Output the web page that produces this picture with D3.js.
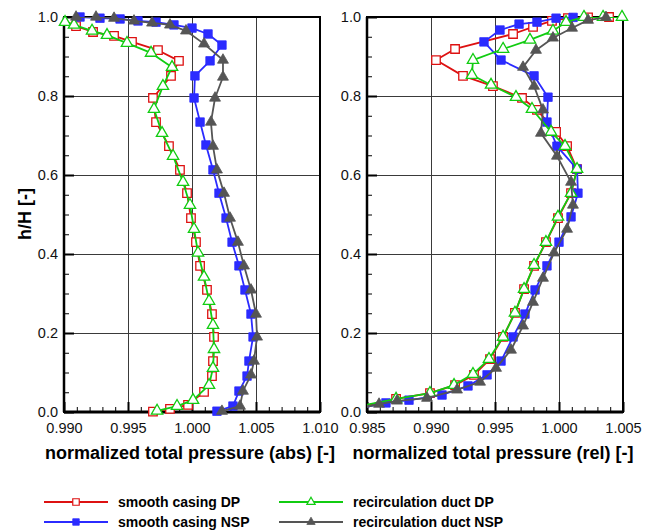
<!DOCTYPE html>
<html>
<head>
<meta charset="utf-8">
<script src="https://cdn.jsdelivr.net/npm/d3@7"></script>
<style>
  html, body { margin: 0; padding: 0; background: #fff; }
  svg { display: block; }
  text { font-family: "Liberation Sans", Arial, sans-serif; }
</style>
</head>
<body>
<svg id="chart" width="652" height="531"></svg>
<script>
// ---------------- data ----------------
const hTicks = [0.0, 0.2, 0.4, 0.6, 0.8, 1.0];
const absTicks = [0.990, 0.995, 1.000, 1.005, 1.010];
const relTicks = [0.985, 0.990, 0.995, 1.000, 1.005];
const absDomain = [0.990, 1.010];
const relDomain = [0.985, 1.005];

const seriesNames = ["smooth casing DP", "smooth casing NSP", "recirculation duct DP", "recirculation duct NSP"];

// [normalized total pressure, h/H]
const absSmoothDP = [[0.9899,0.993],[0.99094,0.977],[0.99227,0.962],[0.99391,0.952],[0.99531,0.937],[0.99734,0.916],[0.99898,0.889],[0.99836,0.851],[0.99695,0.795],[0.99719,0.734],[0.99820,0.673],[0.99906,0.613],[0.99961,0.554],[0.99992,0.491],[1.00031,0.430],[1.00063,0.370],[1.00117,0.309],[1.00156,0.248],[1.00172,0.190],[1.00164,0.129],[1.00156,0.091],[1.00094,0.051],[0.99969,0.018],[0.99828,0.008],[0.99695,0.001]];
const absSmoothNSP = [[0.99125,1.000],[0.99281,0.997],[0.99438,0.995],[0.99578,0.990],[0.99719,0.987],[0.99859,0.980],[1.00000,0.972],[1.00125,0.957],[1.00234,0.929],[1.00141,0.889],[1.00023,0.851],[1.00016,0.795],[1.00063,0.734],[1.00109,0.676],[1.00164,0.613],[1.00211,0.554],[1.00266,0.491],[1.00313,0.430],[1.00367,0.370],[1.00414,0.309],[1.00461,0.248],[1.00477,0.190],[1.00445,0.129],[1.00430,0.091],[1.00367,0.053],[1.00320,0.015],[1.00195,0.002]];
const absRecircDP = [[0.99008,0.987],[0.99078,0.980],[0.99219,0.965],[0.99336,0.954],[0.99492,0.934],[0.99680,0.909],[0.99844,0.873],[0.99773,0.825],[0.99703,0.767],[0.99766,0.706],[0.99852,0.648],[0.99930,0.582],[0.99984,0.524],[1.00016,0.463],[1.00047,0.403],[1.00094,0.342],[1.00133,0.281],[1.00164,0.220],[1.00172,0.159],[1.00164,0.111],[1.00133,0.068],[1.00008,0.030],[0.99883,0.015],[0.99727,0.003]];
const absRecircNSP = [[0.99094,1.000],[0.99250,1.000],[0.99391,0.997],[0.99547,0.990],[0.99688,0.985],[0.99828,0.980],[0.99953,0.965],[1.00094,0.932],[1.00242,0.891],[1.00242,0.848],[1.00180,0.795],[1.00148,0.734],[1.00164,0.673],[1.00195,0.613],[1.00250,0.554],[1.00297,0.491],[1.00359,0.430],[1.00406,0.370],[1.00461,0.309],[1.00500,0.248],[1.00508,0.190],[1.00484,0.129],[1.00461,0.094],[1.00398,0.053],[1.00375,0.015],[1.00234,0.002]];

const relSmoothDP = [[1.00391,1.000],[1.00227,0.999],[1.00070,0.997],[0.99945,0.990],[0.99797,0.975],[0.99641,0.957],[0.99188,0.919],[0.99039,0.891],[0.99250,0.851],[0.99484,0.825],[0.99711,0.795],[0.99828,0.765],[0.99977,0.709],[1.00063,0.673],[1.00141,0.615],[1.00094,0.554],[0.99992,0.491],[0.99898,0.430],[0.99805,0.370],[0.99727,0.311],[0.99656,0.251],[0.99563,0.190],[0.99461,0.134],[0.99336,0.094],[0.99188,0.068],[0.98992,0.048],[0.98727,0.033],[0.9843,0.012]];
const relSmoothNSP = [[1.00110,0.999],[0.99977,0.997],[0.99828,0.987],[0.99688,0.982],[0.99539,0.967],[0.99414,0.937],[0.99547,0.891],[0.99805,0.851],[0.99914,0.797],[0.99906,0.734],[0.99984,0.673],[1.00141,0.615],[1.00148,0.554],[1.00094,0.494],[1.00000,0.430],[0.99906,0.370],[0.99813,0.309],[0.99734,0.248],[0.99641,0.190],[0.99547,0.129],[0.99438,0.094],[0.99289,0.066],[0.99086,0.043],[0.98828,0.030],[0.98648,0.023],[0.9845,0.010]];
const relRecircDP = [[1.00492,1.000],[1.00344,1.000],[1.00195,1.000],[1.00055,0.987],[0.99953,0.965],[0.99773,0.942],[0.99563,0.919],[0.99328,0.891],[0.99320,0.853],[0.99469,0.828],[0.99664,0.797],[0.99789,0.767],[0.99938,0.709],[1.00047,0.673],[1.00141,0.615],[1.00094,0.554],[0.99992,0.494],[0.99898,0.430],[0.99805,0.372],[0.99727,0.311],[0.99656,0.251],[0.99563,0.190],[0.99453,0.134],[0.99328,0.096],[0.99180,0.068],[0.98992,0.048],[0.98727,0.033],[0.9843,0.014]];
const relRecircNSP = [[1.00367,0.999],[1.00227,0.992],[1.00102,0.972],[0.99953,0.947],[0.99820,0.916],[0.99719,0.873],[0.99805,0.825],[0.99875,0.765],[0.99859,0.706],[0.99984,0.648],[1.00094,0.582],[1.00109,0.524],[1.00063,0.463],[0.99961,0.403],[0.99875,0.339],[0.99797,0.278],[0.99719,0.218],[0.99625,0.157],[0.99508,0.111],[0.99383,0.076],[0.99203,0.056],[0.98969,0.035],[0.98734,0.028],[0.98594,0.020],[0.9848,0.012]];

// ---------------- styles ----------------
const styles = [
  { color: "#dd1111", symbol: d3.symbolSquare,   size: 72, filled: false },
  { color: "#2b2bff", symbol: d3.symbolSquare,   size: 72, filled: true  },
  { color: "#11cc11", symbol: d3.symbolTriangle, size: 56, filled: false },
  { color: "#555555", symbol: d3.symbolTriangle, size: 52, filled: true  }
];

const svg = d3.select("#chart");
const plotTop = 17, plotBottom = 412, pw = 256;
const y = d3.scaleLinear().domain([0, 1]).range([plotBottom, plotTop]);

const panels = [
  { x0: 64,  domain: absDomain, ticks: absTicks, title: "normalized total pressure (abs) [-]", data: [absSmoothDP, absSmoothNSP, absRecircDP, absRecircNSP] },
  { x0: 367, domain: relDomain, ticks: relTicks, title: "normalized total pressure (rel) [-]", data: [relSmoothDP, relSmoothNSP, relRecircDP, relRecircNSP] }
];

const minorX = d => d3.range(0, 21).map(i => d[0] + i * 0.001);
const minorY = d3.range(0, 21).map(i => i * 0.05);

panels.forEach((p, pi) => {
  const x = d3.scaleLinear().domain(p.domain).range([p.x0, p.x0 + pw]);
  const g = svg.append("g");
  const clipId = "clip" + pi;
  svg.append("clipPath").attr("id", clipId)
    .append("rect").attr("x", p.x0).attr("y", plotTop).attr("width", pw).attr("height", plotBottom - plotTop);

  // grid
  g.append("g").attr("transform", `translate(0,${plotBottom})`)
    .call(d3.axisBottom(x).tickValues(p.ticks.slice(1, -1)).tickSize(-(plotBottom - plotTop)).tickFormat(""))
    .call(s => s.select(".domain").remove())
    .call(s => s.selectAll("line").attr("stroke", "#3a3a3a").attr("stroke-width", 1));
  g.append("g").attr("transform", `translate(${p.x0},0)`)
    .call(d3.axisLeft(y).tickValues(hTicks.slice(1, -1)).tickSize(-pw).tickFormat(""))
    .call(s => s.select(".domain").remove())
    .call(s => s.selectAll("line").attr("stroke", "#3a3a3a").attr("stroke-width", 1));

  // minor ticks
  g.append("g").attr("transform", `translate(0,${plotBottom})`)
    .call(d3.axisBottom(x).tickValues(minorX(p.domain)).tickSize(-5).tickFormat(""))
    .call(s => s.select(".domain").remove())
    .call(s => s.selectAll("line").attr("stroke", "#000").attr("stroke-width", 1));
  g.append("g").attr("transform", `translate(${p.x0},0)`)
    .call(d3.axisLeft(y).tickValues(minorY).tickSize(-5).tickFormat(""))
    .call(s => s.select(".domain").remove())
    .call(s => s.selectAll("line").attr("stroke", "#000").attr("stroke-width", 1));

  // major axes
  const xa = g.append("g").attr("transform", `translate(0,${plotBottom})`)
    .call(d3.axisBottom(x).tickValues(p.ticks).tickSizeInner(-10).tickSizeOuter(0).tickPadding(11).tickFormat(d3.format(".3f")));
  xa.select(".domain").remove();
  xa.selectAll("line").attr("stroke", "#000").attr("stroke-width", 2);
  xa.selectAll("text").attr("font-size", "14.5px").attr("fill", "#111")
    .style("font-family", '"Liberation Sans", Arial, sans-serif');

  const ya = g.append("g").attr("transform", `translate(${p.x0},0)`)
    .call(d3.axisLeft(y).tickValues(hTicks).tickSizeInner(-10).tickSizeOuter(0).tickPadding(6).tickFormat(d3.format(".1f")));
  ya.select(".domain").remove();
  ya.selectAll("line").attr("stroke", "#000").attr("stroke-width", 2);
  ya.selectAll("text").attr("font-size", "14.5px").attr("fill", "#111")
    .style("font-family", '"Liberation Sans", Arial, sans-serif');

  // frame
  g.append("rect").attr("x", p.x0).attr("y", plotTop).attr("width", pw).attr("height", plotBottom - plotTop)
    .attr("fill", "none").attr("stroke", "#000").attr("stroke-width", 2);
  g.append("line").attr("x1", p.x0).attr("x2", p.x0 + pw).attr("y1", plotBottom).attr("y2", plotBottom)
    .attr("stroke", "#000").attr("stroke-width", 3);
  g.append("line").attr("x1", p.x0).attr("x2", p.x0).attr("y1", plotTop).attr("y2", plotBottom)
    .attr("stroke", "#000").attr("stroke-width", 2.5);

  // series
  const line = d3.line().x(d => x(d[0])).y(d => y(d[1]));
  p.data.forEach((ser, si) => {
    const st = styles[si];
    g.append("path").datum(ser).attr("d", line).attr("clip-path", `url(#${clipId})`)
      .attr("fill", "none").attr("stroke", st.color).attr("stroke-width", 1.8).attr("stroke-linejoin", "round");
    const sym = d3.symbol().type(st.symbol).size(st.size);
    g.selectAll(null).data(ser.filter(d => d[0] >= p.domain[0] && d[0] <= p.domain[1])).enter()
      .append("path").attr("d", sym)
      .attr("transform", d => `translate(${x(d[0])},${y(d[1])})`)
      .attr("fill", st.filled ? st.color : "#fff")
      .attr("stroke", st.color).attr("stroke-width", st.filled ? 0.8 : 1.3);
  });

  // axis title
  svg.append("text").attr("x", p.x0 + pw / 2 - 2).attr("y", 459).attr("text-anchor", "middle")
    .attr("font-size", "18px").attr("font-weight", "bold").attr("fill", "#000").text(p.title);
});

// y title
svg.append("text").attr("transform", "translate(31,214) rotate(-90)").attr("text-anchor", "middle")
  .attr("font-size", "18px").attr("font-weight", "bold").attr("fill", "#000").text("h/H [-]");

// legend
const legendPos = [
  { lx: 44, row: 0 }, { lx: 44, row: 1 }, { lx: 279, row: 0 }, { lx: 279, row: 1 }
];
seriesNames.forEach((name, i) => {
  const st = styles[i];
  const lp = legendPos[i];
  const ly = 502 + lp.row * 20;
  const lg = svg.append("g");
  lg.append("line").attr("x1", lp.lx).attr("x2", lp.lx + 64).attr("y1", ly).attr("y2", ly)
    .attr("stroke", st.color).attr("stroke-width", 1.8);
  lg.append("path").attr("d", d3.symbol().type(st.symbol).size(st.symbol === d3.symbolSquare ? 42 : 30)())
    .attr("transform", `translate(${lp.lx + 32},${ly})`)
    .attr("fill", st.filled ? st.color : "#fff").attr("stroke", st.color).attr("stroke-width", st.filled ? 0.8 : 1.2);
  lg.append("text").attr("x", lp.lx + 74).attr("y", ly + 5).attr("font-size", "14px").attr("font-weight", "bold")
    .attr("fill", "#000").text(name);
});
</script>
</body>
</html>
